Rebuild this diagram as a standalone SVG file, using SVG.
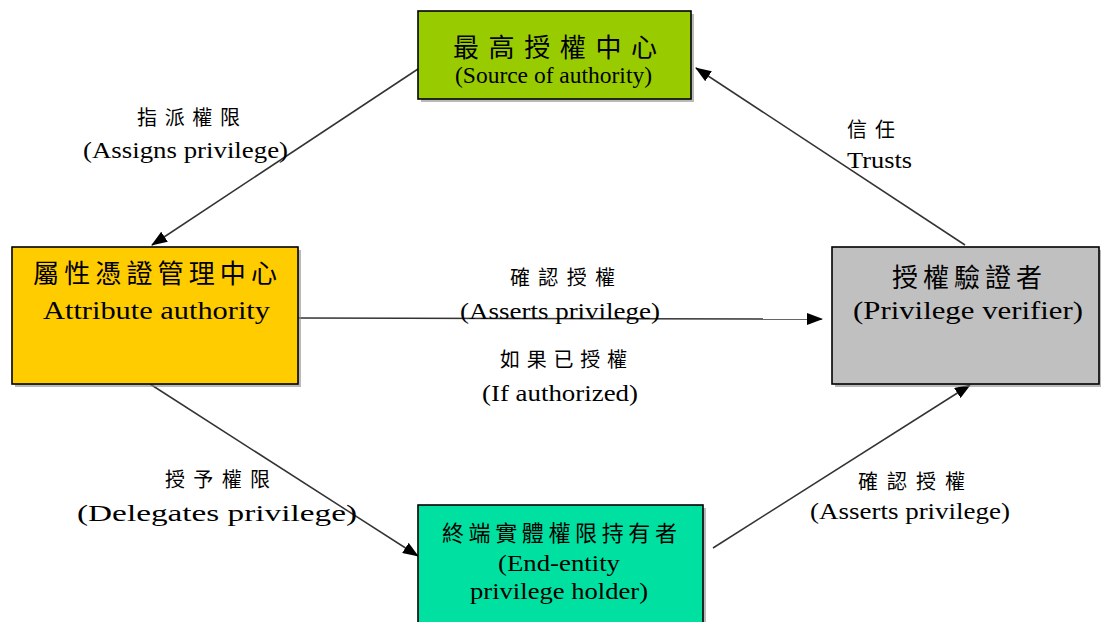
<svg xmlns="http://www.w3.org/2000/svg" width="1101" height="622" viewBox="0 0 1101 622">
  <style>
    .box { stroke: #000; stroke-width: 1.6; }
    .shadow { fill: #8a8a8a; opacity: 0.6; }
    .cjk { font-family: "Liberation Serif", "Noto Sans CJK TC", serif; fill: #000; }
    .en { font-family: "Liberation Serif", "Noto Sans CJK TC", serif; fill: #000; }
    .edge { stroke: #333; stroke-width: 1.5; fill: none; marker-end: url(#arrow); }
  </style>
  <defs>
    <marker id="arrow" markerUnits="userSpaceOnUse" markerWidth="16" markerHeight="12" refX="15" refY="6" orient="auto">
      <path d="M0,0 L16,6 L0,12 Z" fill="#000"/>
    </marker>
  </defs>
  <rect width="1101" height="622" fill="#fff"/>

  <!-- connectors -->
  <g id="connectors">
    <line class="edge" x1="418" y1="69" x2="152" y2="245"/>
    <line class="edge" x1="965" y1="245" x2="696" y2="68"/>
    <line class="edge" x1="298" y1="318" x2="822" y2="319"/>
    <line class="edge" x1="150" y1="384" x2="418" y2="556"/>
    <line class="edge" x1="713" y1="548" x2="970" y2="385"/>
  </g>

  <!-- edge labels -->
  <g id="labels">
    <text class="cjk" x="137" y="125" font-size="20" textLength="103" lengthAdjust="spacing">指派權限</text>
    <text class="en" x="83" y="158" font-size="24" textLength="205" lengthAdjust="spacingAndGlyphs">(Assigns privilege)</text>
    <text class="cjk" x="847" y="137" font-size="20" textLength="48" lengthAdjust="spacing">信任</text>
    <text class="en" x="847" y="168" font-size="24" textLength="65" lengthAdjust="spacingAndGlyphs">Trusts</text>
    <text class="cjk" x="510" y="285" font-size="20" textLength="105" lengthAdjust="spacing">確認授權</text>
    <text class="en" x="460" y="319" font-size="24" textLength="200" lengthAdjust="spacingAndGlyphs">(Asserts privilege)</text>
    <text class="cjk" x="500" y="367" font-size="20" textLength="127" lengthAdjust="spacing">如果已授權</text>
    <text class="en" x="482" y="401" font-size="24" textLength="156" lengthAdjust="spacingAndGlyphs">(If authorized)</text>
    <text class="cjk" x="165" y="487" font-size="20" textLength="105" lengthAdjust="spacing">授予權限</text>
    <text class="en" x="77" y="521" font-size="24" textLength="280" lengthAdjust="spacingAndGlyphs">(Delegates privilege)</text>
    <text class="cjk" x="858" y="489" font-size="20" textLength="107" lengthAdjust="spacing">確認授權</text>
    <text class="en" x="810" y="519" font-size="24" textLength="200" lengthAdjust="spacingAndGlyphs">(Asserts privilege)</text>
  </g>

  <!-- source of authority -->
  <g id="node-source">
    <rect class="shadow" x="421" y="14" width="273" height="88"/>
    <rect class="box" x="418" y="11" width="273" height="88" fill="#99CC00"/>
    <text class="cjk" x="453" y="57" font-size="26" textLength="204" lengthAdjust="spacing">最高授權中心</text>
    <text class="en" x="455" y="83" font-size="23" textLength="197" lengthAdjust="spacingAndGlyphs">(Source of authority)</text>
  </g>

  <!-- attribute authority -->
  <g id="node-attribute">
    <rect class="shadow" x="15" y="250" width="286" height="137"/>
    <rect class="box" x="12" y="247" width="286" height="137" fill="#FFCC00"/>
    <text class="cjk" x="33" y="283" font-size="26" textLength="244" lengthAdjust="spacing">屬性憑證管理中心</text>
    <text class="en" x="43" y="319" font-size="26" textLength="227" lengthAdjust="spacingAndGlyphs">Attribute authority</text>
  </g>

  <!-- privilege verifier -->
  <g id="node-verifier">
    <rect class="shadow" x="835" y="250" width="266" height="137"/>
    <rect class="box" x="832" y="247" width="267" height="137" fill="#C0C0C0"/>
    <text class="cjk" x="892" y="287" font-size="26" textLength="150" lengthAdjust="spacing">授權驗證者</text>
    <text class="en" x="853" y="319" font-size="26" textLength="230" lengthAdjust="spacingAndGlyphs">(Privilege verifier)</text>
  </g>

  <!-- end-entity privilege holder -->
  <g id="node-holder">
    <rect class="shadow" x="421" y="508" width="285" height="130"/>
    <rect class="box" x="418" y="505" width="285" height="130" fill="#00E0A0"/>
    <text class="cjk" x="442" y="541" font-size="22" textLength="235" lengthAdjust="spacing">終端實體權限持有者</text>
    <text class="en" x="498" y="571" font-size="24" textLength="122" lengthAdjust="spacingAndGlyphs">(End-entity</text>
    <text class="en" x="470" y="599" font-size="24" textLength="178" lengthAdjust="spacingAndGlyphs">privilege holder)</text>
  </g>
</svg>
